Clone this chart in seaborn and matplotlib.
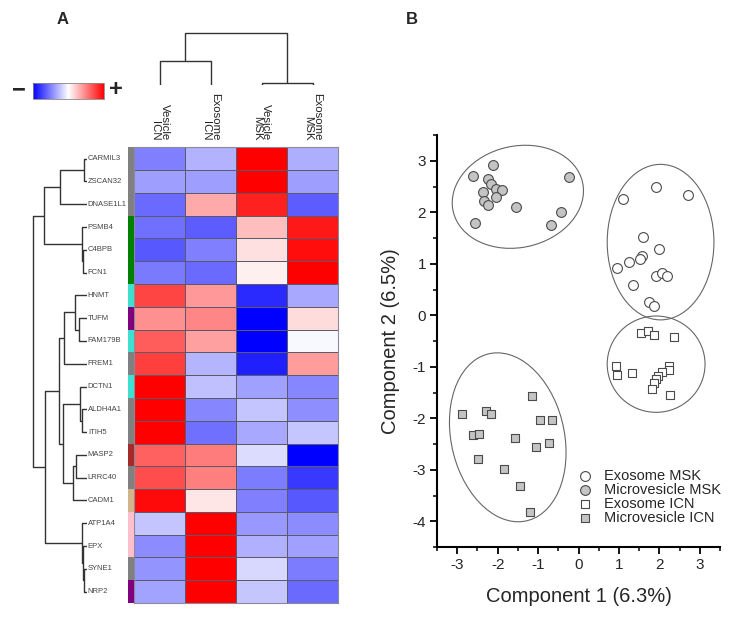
import numpy as np
import pandas as pd
import matplotlib
matplotlib.use("Agg")
import matplotlib.pyplot as plt
from matplotlib.colors import ListedColormap
from matplotlib.patches import Ellipse
from matplotlib.ticker import MultipleLocator
import seaborn as sns

# ---- panel A: heatmap data ----
genes = ["CARMIL3", "ZSCAN32", "DNASE1L1", "PSMB4", "C4BPB", "FCN1", "HNMT", "TUFM",
         "FAM179B", "FREM1", "DCTN1", "ALDH4A1", "ITIH5", "MASP2", "LRRC40", "CADM1",
         "ATP1A4", "EPX", "SYNE1", "NRP2"]
samples = ["Vesicle\nICN", "Exosome\nICN", "Vesicle\nMSK", "Exosome\nMSK"]

vesicle_icn = [-0.50, -0.38, -0.58, -0.56, -0.65, -0.52, 0.73, 0.43, 0.64, 0.75,
               1.00, 1.00, 1.00, 0.62, 0.70, 0.96, -0.23, -0.45, -0.42, -0.36]
exosome_icn = [-0.30, -0.38, 0.33, -0.64, -0.50, -0.58, 0.40, 0.47, 0.37, -0.29,
               -0.25, -0.47, -0.56, 0.51, 0.50, 0.10, 1.00, 1.00, 1.00, 1.00]
vesicle_msk = [1.00, 1.00, 0.87, 0.25, 0.12, 0.06, -0.83, -1.00, -1.00, -0.87,
               -0.37, -0.23, -0.34, -0.14, -0.51, -0.50, -0.40, -0.31, -0.15, -0.22]
exosome_msk = [-0.32, -0.38, -0.64, 0.90, 0.95, 1.00, -0.34, 0.14, -0.03, 0.39,
               -0.47, -0.44, -0.22, -1.00, -0.78, -0.65, -0.45, -0.37, -0.51, -0.58]

module_colors = ["gray", "gray", "gray", "green", "green", "green", "turquoise", "purple",
                 "turquoise", "gray", "turquoise", "gray", "gray", "brown", "gray", "tan",
                 "pink", "pink", "gray", "purple"]

# linkage: (node a, node b, height), new nodes numbered after the leaves
row_merges = [(0, 1, 0.044), (20, 2, 0.50), (4, 5, 0.06), (3, 22, 0.08), (21, 23, 0.79),
              (7, 8, 0.14), (6, 25, 0.22), (26, 9, 0.41), (11, 12, 0.094), (10, 28, 0.125),
              (13, 14, 0.19), (30, 15, 0.26), (29, 31, 0.44), (27, 32, 0.51),
              (18, 19, 0.05), (17, 34, 0.065), (16, 35, 0.085), (33, 36, 0.77), (24, 37, 1.0)]
col_merges = [(0, 1, 0.45), (2, 3, 0.02), (4, 5, 1.0)]

# ---- panel B: PCA scores ----
exo_msk_x = [1.09, 1.91, 2.72, 1.60, 1.99, 1.56, 1.52, 1.24, 0.95, 1.91, 2.06, 2.20, 1.34, 1.75, 1.87]
exo_msk_y = [2.25, 2.50, 2.34, 1.52, 1.29, 1.16, 1.10, 1.03, 0.92, 0.76, 0.82, 0.76, 0.58, 0.25, 0.18]
mv_msk_x = [-2.61, -2.11, -2.25, -2.16, -2.05, -1.89, -2.36, -2.03, -2.33, -2.23, -1.55, -2.57, -0.23, -0.44, -0.68]
mv_msk_y = [2.70, 2.91, 2.65, 2.54, 2.46, 2.44, 2.39, 2.30, 2.22, 2.14, 2.11, 1.79, 2.69, 2.01, 1.75]
exo_icn_x = [1.55, 1.71, 1.87, 2.36, 0.92, 0.96, 1.33, 2.25, 2.24, 2.06, 1.97, 1.92, 1.87, 1.81, 2.26]
exo_icn_y = [-0.34, -0.30, -0.38, -0.43, -0.99, -1.16, -1.12, -0.98, -1.07, -1.10, -1.17, -1.24, -1.31, -1.44, -1.54]
mv_icn_x = [-2.89, -2.29, -2.17, -1.15, -0.95, -0.66, -2.61, -2.45, -1.56, -1.04, -0.73, -2.48, -1.85, -1.44, -1.20]
mv_icn_y = [-1.92, -1.85, -1.91, -1.57, -2.03, -2.03, -2.33, -2.31, -2.38, -2.55, -2.49, -2.79, -2.98, -3.31, -3.83]

groups = ["Exosome MSK", "Microvesicle MSK", "Exosome ICN", "Microvesicle ICN"]
ell_cx = [2.03, -1.50, 1.92, -1.75]
ell_cy = [1.42, 2.30, -0.95, -2.37]
ell_w = [2.64, 3.26, 2.42, 3.41]
ell_h = [3.02, 1.98, 1.87, 2.73]
ell_angle = [0.0, 6.5, 0.0, -62.9]


def draw_dendrogram(ax, merges, n_leaves, orient="left"):
    pos = {i: i + 0.5 for i in range(n_leaves)}
    hgt = {i: 0.0 for i in range(n_leaves)}
    for k, (a, b, h) in enumerate(merges):
        leaf_side = [pos[a], pos[a], pos[b], pos[b]]
        height_side = [hgt[a], h, h, hgt[b]]
        if orient == "left":
            ax.plot(height_side, leaf_side, color="#333333", lw=1.0, solid_capstyle="butt")
        else:
            ax.plot(leaf_side, height_side, color="#333333", lw=1.0, solid_capstyle="butt")
        pos[n_leaves + k] = (pos[a] + pos[b]) / 2
        hgt[n_leaves + k] = h


sns.set_theme(style="white")
plt.rcParams["font.family"] = ["Liberation Sans", "DejaVu Sans"]
plt.rcParams["axes.unicode_minus"] = False

W, H = 734, 617
fig = plt.figure(figsize=(W / 100, H / 100), dpi=100)


def px_axes(x0, y0, x1, y1):
    return fig.add_axes([x0 / W, 1 - y1 / H, (x1 - x0) / W, (y1 - y0) / H])


# ---- heatmap ----
ax_hm = px_axes(134.3, 147.3, 338, 603)
ax_side = px_axes(128.3, 147.3, 134.3, 603)
ax_rd = px_axes(32, 147.3, 86.7, 603)
ax_cd = px_axes(134.3, 32, 338, 84.5)
cax = px_axes(32.7, 82.7, 104.3, 99)

df = pd.DataFrame({samples[0]: vesicle_icn, samples[1]: exosome_icn,
                   samples[2]: vesicle_msk, samples[3]: exosome_msk}, index=genes)
sns.heatmap(df, ax=ax_hm, cmap="bwr", vmin=-1, vmax=1, linewidths=0.6, linecolor="#5a5a6a",
            xticklabels=False, yticklabels=False, cbar_ax=cax,
            cbar_kws={"orientation": "horizontal"})
for sp in ax_hm.spines.values():
    sp.set_visible(True)
    sp.set_color("#8a8a9a")
    sp.set_linewidth(0.8)
cbar = ax_hm.collections[0].colorbar
cbar.set_ticks([])
cbar.outline.set_edgecolor("#888888")
cbar.outline.set_linewidth(0.6)

codes = np.arange(len(genes)).reshape(-1, 1)
sns.heatmap(codes, ax=ax_side, cmap=ListedColormap(module_colors), vmin=-0.5,
            vmax=len(genes) - 0.5, cbar=False, xticklabels=False, yticklabels=False)

draw_dendrogram(ax_rd, row_merges, len(genes), orient="left")
ax_rd.set_xlim(1.01, 0)
ax_rd.set_ylim(len(genes), 0)
ax_rd.axis("off")
for i, g in enumerate(genes):
    ax_rd.text(-0.02, i + 0.5, g, ha="left", va="center", fontsize=5.5,
               color="#444444", clip_on=False)

draw_dendrogram(ax_cd, col_merges, len(samples), orient="top")
ax_cd.set_xlim(0, len(samples))
ax_cd.set_ylim(0, 1.01)
ax_cd.axis("off")
for j, s in enumerate(samples):
    ax_hm.text(j + 0.5, -0.3, s, rotation=-90, ha="center", va="bottom",
               multialignment="right", fontsize=8.2, color="#222222", linespacing=0.95)

fig.text(19 / W, 1 - 90 / H, "\u2212", fontsize=17, fontweight="bold", ha="center", va="center")
fig.text(116 / W, 1 - 90 / H, "+", fontsize=17, fontweight="bold", ha="center", va="center")
fig.text(63 / W, 1 - 19 / H, "A", fontsize=12, fontweight="bold", ha="center", va="center")
fig.text(412 / W, 1 - 19 / H, "B", fontsize=12, fontweight="bold", ha="center", va="center")

# ---- PCA scatter ----
ax = px_axes(437, 135, 720, 547)
pts = pd.DataFrame({
    "x": exo_msk_x + mv_msk_x + exo_icn_x + mv_icn_x,
    "y": exo_msk_y + mv_msk_y + exo_icn_y + mv_icn_y,
    "group": [groups[0]] * len(exo_msk_x) + [groups[1]] * len(mv_msk_x)
             + [groups[2]] * len(exo_icn_x) + [groups[3]] * len(mv_icn_x),
})
marker_of = {groups[0]: "o", groups[1]: "o", groups[2]: "s", groups[3]: "s"}
fill_of = {groups[0]: "white", groups[1]: "#c4c4c4", groups[2]: "white", groups[3]: "#c4c4c4"}
size_of = {groups[0]: 50, groups[1]: 50, groups[2]: 32, groups[3]: 32}
for g in groups:
    sub = pts[pts["group"] == g]
    sns.scatterplot(data=sub, x="x", y="y", ax=ax, marker=marker_of[g], color=fill_of[g],
                    edgecolor="#4a4a4a", linewidth=0.8, s=size_of[g], label=g, zorder=3)

for cx_, cy_, w_, h_, a_ in zip(ell_cx, ell_cy, ell_w, ell_h, ell_angle):
    ax.add_patch(Ellipse((cx_, cy_), w_, h_, angle=a_, fill=False, ec="#666666", lw=0.8))

ax.set_xlim(-3.5, 3.5)
ax.set_ylim(-4.5, 3.5)
ax.xaxis.set_major_locator(MultipleLocator(1))
ax.yaxis.set_major_locator(MultipleLocator(1))
ax.xaxis.set_minor_locator(MultipleLocator(0.5))
ax.yaxis.set_minor_locator(MultipleLocator(0.5))
sns.despine(ax=ax)
for sp in ["left", "bottom"]:
    ax.spines[sp].set_color("black")
    ax.spines[sp].set_linewidth(1.5)
ax.tick_params(which="both", direction="out", bottom=True, left=True, color="black")
ax.tick_params(which="major", length=5, width=1.3, labelsize=11, pad=3)
ax.tick_params(which="minor", length=3, width=1.1)
ax.set_xlabel("Component 1 (6.3%)", fontsize=14.5, labelpad=11)
ax.set_ylabel("Component 2 (6.5%)", fontsize=14.5, labelpad=9)

h, l = ax.get_legend_handles_labels()
ax.legend(h, l, loc="upper left", bbox_to_anchor=(578 / W, 1 - 469 / H),
          bbox_transform=fig.transFigure, frameon=False, fontsize=10.5,
          labelspacing=0.0, handletextpad=0.8, handlelength=1.0,
          borderpad=0, borderaxespad=0)

fig.savefig("out.png", dpi=100)
